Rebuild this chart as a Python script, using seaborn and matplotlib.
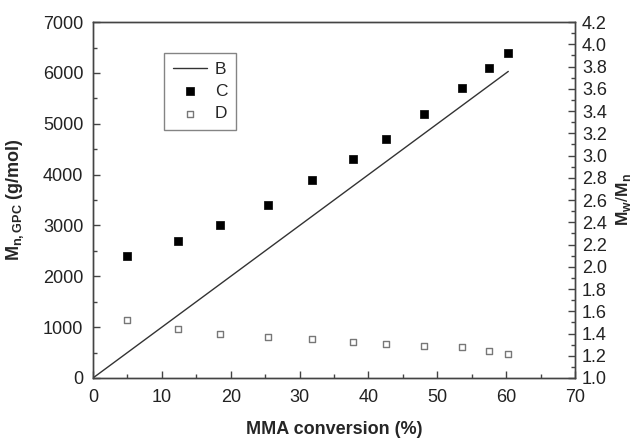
import numpy as np
import pandas as pd
import matplotlib
matplotlib.use('Agg')
import matplotlib.pyplot as plt
import seaborn as sns
from matplotlib.ticker import MultipleLocator

# conversion (%) for the measured samples
conversion = [4.9, 12.3, 18.4, 25.4, 31.8, 37.8, 42.6, 48.0, 53.6, 57.5, 60.3]
# B: theoretical Mn line
theory_conv = [0, 60.3]
theory_mn = [0, 6030]
# C: Mn from GPC (g/mol)
mn_gpc = [2400, 2700, 3000, 3400, 3900, 4300, 4700, 5200, 5700, 6100, 6400]
# D: dispersity Mw/Mn
pdi = [1.52, 1.44, 1.40, 1.37, 1.35, 1.32, 1.31, 1.29, 1.28, 1.24, 1.22]

sns.set_style('ticks')
plt.rcParams['font.family'] = ['Liberation Sans', 'DejaVu Sans']
plt.rcParams['mathtext.fontset'] = 'custom'
plt.rcParams['mathtext.rm'] = 'Liberation Sans'
plt.rcParams['mathtext.bf'] = 'Liberation Sans:bold'
plt.rcParams['xtick.direction'] = 'in'
plt.rcParams['ytick.direction'] = 'in'

line_df = pd.DataFrame({'conv': theory_conv, 'mn': theory_mn})
pts_df = pd.DataFrame({'conv': conversion, 'mn': mn_gpc, 'pdi': pdi})

fig = plt.figure(figsize=(6.39, 4.42), dpi=100)
ax = fig.add_axes([0.1455, 0.1448, 0.7545, 0.8052])
ax2 = ax.twinx()

sns.lineplot(data=line_df, x='conv', y='mn', ax=ax, color='#333333', lw=1.0, label='B', legend=False)
sns.scatterplot(data=pts_df, x='conv', y='mn', ax=ax, marker='s', s=26, color='black',
                edgecolor='black', linewidth=0.5, label='C', legend=False)
sns.scatterplot(data=pts_df, x='conv', y='pdi', ax=ax2, marker='s', s=22, facecolor='white',
                edgecolor='#777777', linewidth=1.0, label='D', legend=False)

ax.set_xlim(0, 70)
ax.set_ylim(0, 7000)
ax2.set_ylim(1.0, 4.2)
ax.xaxis.set_major_locator(MultipleLocator(10))
ax.xaxis.set_minor_locator(MultipleLocator(5))
ax.yaxis.set_major_locator(MultipleLocator(1000))
ax.yaxis.set_minor_locator(MultipleLocator(500))
ax2.yaxis.set_major_locator(MultipleLocator(0.2))
ax2.yaxis.set_minor_locator(MultipleLocator(0.1))
ax2.yaxis.set_major_formatter(matplotlib.ticker.FormatStrFormatter('%.1f'))

for a in (ax, ax2):
    for sp in a.spines.values():
        sp.set_visible(True)
        sp.set_color('#444444')
        sp.set_linewidth(1.0)
    a.tick_params(which='major', length=5, width=1, color='#444444', labelsize=13, labelcolor='#222222')
    a.tick_params(which='minor', length=3, width=1, color='#444444')
ax.tick_params(axis='x', pad=8)
ax.tick_params(axis='y', pad=7)
ax2.tick_params(axis='y', pad=5)

ax.set_xlabel('MMA conversion (%)', fontsize=13, fontweight='bold', labelpad=11)
ax.set_ylabel(r'$\mathbf{M}_{\mathbf{n,GPC}}$ (g/mol)', fontsize=13, fontweight='bold', labelpad=12)
ax2.set_ylabel(r'$\mathbf{M}_{\mathbf{w}}/\mathbf{M}_{\mathbf{n}}$', fontsize=12.5, fontweight='bold',
               rotation=90, labelpad=5)

h1, l1 = ax.get_legend_handles_labels()
h2, l2 = ax2.get_legend_handles_labels()
leg = ax2.legend(h1 + h2, l1 + l2, loc='upper left', bbox_to_anchor=(0.147, 0.913),
                 fancybox=False, frameon=True, edgecolor='#666666', fontsize=12.5,
                 handlelength=2.0, handletextpad=0.45, labelspacing=0.4, borderpad=0.5,
                 borderaxespad=0)
leg.get_frame().set_linewidth(1.0)

fig.savefig('out.png', dpi=100)
